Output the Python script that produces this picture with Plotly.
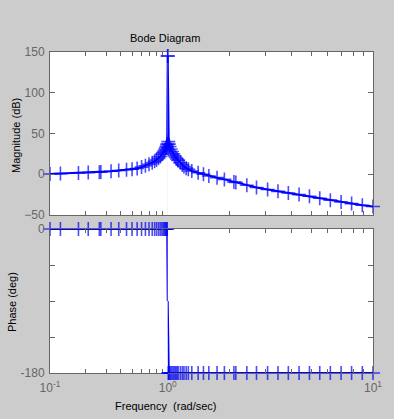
import plotly.graph_objects as go

# Frequencies (rad/sec) of the plotted samples
freq = [0.1, 0.1226, 0.1745, 0.2113, 0.2625, 0.2703, 0.3302, 0.3836, 0.4467, 0.4977,
        0.5498, 0.5994, 0.6465, 0.6936, 0.7384, 0.7742, 0.8040, 0.8350, 0.8637, 0.8920,
        0.9141, 0.9348, 0.9526, 0.9671, 0.9800, 0.9894,
        1.0,
        1.006, 1.012, 1.02, 1.033, 1.048, 1.064, 1.08, 1.095, 1.11, 1.124, 1.152,
        1.178, 1.2, 1.23, 1.26, 1.31, 1.407, 1.493, 1.586, 1.739, 1.888, 2.101, 2.147,
        2.429, 2.707, 3.066, 3.444, 3.869, 4.364, 4.903, 5.503, 6.197, 6.992, 7.866,
        8.87, 10.0]

# Magnitude (dB)
mag = [0.3, 0.8, 1.6, 2.0, 2.6, 2.7, 3.6, 4.6, 5.5, 6.2,
       7.0, 8.8, 10.5, 12.3, 14.2, 15.8, 17.5, 19.5, 21.8, 24.5,
       26.5, 28.5, 30.5, 32.5, 34.5, 37.0,
       145.0,
       40.0, 37.0, 34.0, 31.0, 28.0, 25.0, 22.5, 20.5, 18.7, 17.0, 14.0,
       11.5, 9.5, 7.5, 6.0, 4.0, 1.9, 0.0, -2.1, -4.2, -6.3, -9.5, -10.0,
       -13.5, -16.3, -18.8, -21.0, -23.0, -25.0, -27.0, -29.5, -31.8, -34.0, -36.0,
       -38.0, -39.5]

# Phase (deg)
phase = [0, 0, 0, 0, 0, 0, 0, 0, 0, 0,
         0, 0, 0, 0, 0, 0, 0, 0, 0, 0,
         0, 0, 0, 0, 0, 0,
         -90,
         -180, -180, -180, -180, -180, -180, -180, -180, -180, -180, -180,
         -180, -180, -180, -180, -180, -180, -180, -180, -180, -180, -180, -180,
         -180, -180, -180, -180, -180, -180, -180, -180, -180, -180, -180,
         -180, -180]

mag_ticks = [-50, 0, 50, 100, 150]
phase_ticks = [-180, -135, -90, -45, 0]
phase_ticktext = ["-180", "", "", "", "0"]
left_major = [0.1, 1]
left_minor = [0.2, 0.3, 0.4, 0.5, 0.6, 0.7, 0.8, 0.9]
right_major = [1, 10]
right_minor = [2, 3, 4, 5, 6, 7, 8, 9]
left_labels = ["10<sup>-1</sup>", "10<sup>0</sup>"]
right_labels = ["", "10<sup>1</sup>"]

BLUE = "#0000ff"
AXC = "#666666"
BG = "#cccccc"
FONT = "Liberation Sans, Arial, Helvetica, sans-serif"
FS = 12
TS = 11

left_idx = [i for i, f in enumerate(freq) if f <= 1.0]
right_idx = [i for i, f in enumerate(freq) if f >= 1.0]


def trace(idx, ys, xa, ya, hide_mid=False):
    sizes = [0 if (hide_mid and freq[i] == 1.0) else 10 for i in idx]
    return go.Scatter(
        x=[freq[i] for i in idx], y=[ys[i] for i in idx],
        xaxis=xa, yaxis=ya, mode="lines+markers",
        line=dict(color=BLUE, width=2),
        marker=dict(symbol="cross-thin", size=sizes, line=dict(color=BLUE, width=1.6)),
        cliponaxis=False, showlegend=False, hoverinfo="skip",
    )


fig = go.Figure()
fig.add_trace(trace(left_idx, mag, "x", "y"))
fig.add_trace(trace(right_idx, mag, "x2", "y2"))
fig.add_trace(trace(left_idx, phase, "x3", "y3", hide_mid=True))
fig.add_trace(trace(right_idx, phase, "x4", "y4", hide_mid=True))

W, H = 394, 419
ml, mr, mt, mb = 50, 12, 52, 46
pw = W - ml - mr
ph = H - mt - mb
split = 121 / pw
top_dom = [(ph - 163) / ph, 1]
bot_dom = [0, 144 / ph]

tf = dict(family=FONT, size=FS, color=AXC)
common_x = dict(type="log", ticks="inside", ticklen=5, tickcolor=AXC, showline=True,
                linecolor=AXC, linewidth=1, mirror="ticks", showgrid=False,
                zeroline=False, tickfont=tf)
common_y = dict(ticks="inside", ticklen=5, tickcolor=AXC, showline=True, linecolor=AXC,
                linewidth=1, showgrid=False, zeroline=False, tickfont=tf)
minor_l = dict(tickmode="array", tickvals=left_minor, ticks="inside", ticklen=4,
               tickcolor=AXC, showgrid=False)
minor_r = dict(tickmode="array", tickvals=right_minor, ticks="inside", ticklen=4,
               tickcolor=AXC, showgrid=False)

tfont = dict(family=FONT, size=TS, color="black")


def label(text, px, py, angle=0):
    return dict(text=text, xref="paper", yref="paper",
                x=(px - ml) / pw, y=(H - mb - py) / ph,
                xanchor="center", yanchor="middle", textangle=angle,
                showarrow=False, font=tfont)


fig.update_layout(
    width=W, height=H,
    margin=dict(l=ml, r=mr, t=mt, b=mb, pad=0),
    paper_bgcolor=BG, plot_bgcolor="white",
    font=tfont,
    xaxis=dict(common_x, domain=[0, split], range=[-1, 0], anchor="y",
               tickmode="array", tickvals=left_major, showticklabels=False,
               minor=minor_l),
    xaxis2=dict(common_x, domain=[split, 1], range=[0, 1], anchor="y2",
                tickmode="array", tickvals=right_major, showticklabels=False,
                minor=minor_r),
    xaxis3=dict(common_x, domain=[0, split], range=[-1, 0], anchor="y3",
                tickmode="array", tickvals=left_major, ticktext=left_labels,
                minor=minor_l, ticklabelstandoff=4),
    xaxis4=dict(common_x, domain=[split, 1], range=[0, 1], anchor="y4",
                tickmode="array", tickvals=right_major, ticktext=right_labels,
                minor=minor_r, ticklabelstandoff=4),
    yaxis=dict(common_y, domain=top_dom, range=[-50, 150], anchor="x",
               tickmode="array", tickvals=mag_ticks, ticklabelstandoff=2),
    yaxis2=dict(common_y, domain=top_dom, range=[-50, 150], anchor="x2", side="right",
                tickmode="array", tickvals=mag_ticks, showticklabels=False),
    yaxis3=dict(common_y, domain=bot_dom, range=[-180, 0], anchor="x3",
                tickmode="array", tickvals=phase_ticks, ticktext=phase_ticktext,
                ticklabelstandoff=2),
    yaxis4=dict(common_y, domain=bot_dom, range=[-180, 0], anchor="x4", side="right",
                tickmode="array", tickvals=phase_ticks, showticklabels=False),
    annotations=[
        label("Bode Diagram", 168, 38),
        label("Magnitude (dB)", 15, 135, -90),
        label("Phase (deg)", 11, 302, -90),
        label("Frequency  (rad/sec)", 169, 406),
    ],
)

fig.write_html("out.html",
               config={"displayModeBar": False},
               post_script="document.body.style.margin='0';document.body.style.overflow='hidden';")
